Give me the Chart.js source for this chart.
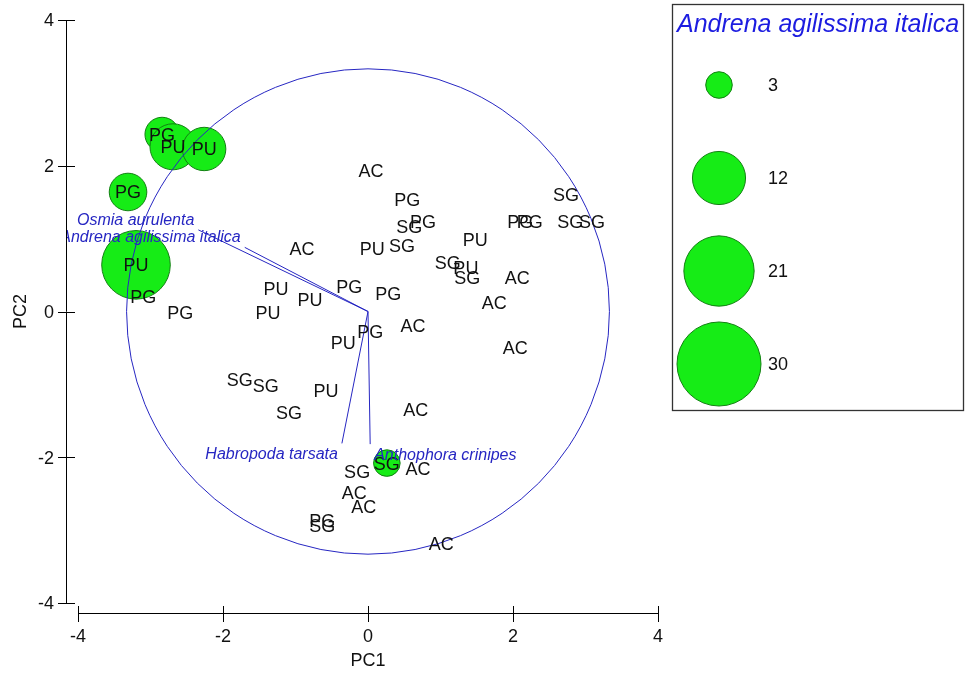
<!DOCTYPE html>
<html>
<head>
<meta charset="utf-8">
<title>PCA – sites and bee species</title>
<script src="https://cdn.jsdelivr.net/npm/chart.js@4.4.1/dist/chart.umd.min.js"></script>
<style>
  html, body { margin: 0; padding: 0; background: #ffffff; }
  canvas { display: block; }
</style>
</head>
<body>
<canvas id="pca" width="965" height="675"></canvas>
<script>
// Site scores on the first two principal components, with the site group
// and the abundance of Andrena agilissima italica at each site.
const sites = [
  'PG', 'PU', 'PU', 'PG', 'PU', 'SG',
  'AC', 'AC', 'AC', 'AC', 'AC', 'AC', 'AC', 'AC', 'AC', 'AC', 'AC',
  'PG', 'PG', 'PG', 'PG', 'PG', 'PG', 'PG', 'PG', 'PG', 'PG',
  'PU', 'PU', 'PU', 'PU', 'PU', 'PU', 'PU', 'PU',
  'SG', 'SG', 'SG', 'SG', 'SG', 'SG', 'SG', 'SG', 'SG', 'SG', 'SG', 'SG'
];
const pc1 = [
  -2.84, -2.69, -2.26, -3.31, -3.20, 0.26,
  -0.91, 0.04, 2.06, 1.74, 0.62, 2.03, 0.66, 0.69, -0.19, -0.06, 1.01,
  -3.10, -2.59, 0.54, 0.76, -0.26, 0.28, 2.10, 2.23, 0.03, -0.63,
  -1.27, -1.38, -0.80, 0.06, 1.48, 1.35, -0.34, -0.58,
  0.57, 0.47, 1.10, 1.37, 2.73, 2.79, 3.09, -1.77, -1.41, -1.09, -0.15, -0.63
];
const pc2 = [
  2.43, 2.26, 2.23, 1.64, 0.64, -2.08,
  0.87, 1.93, 0.47, 0.12, -0.19, -0.50, -1.34, -2.15, -2.49, -2.67, -3.18,
  0.21, -0.01, 1.53, 1.24, 0.34, 0.24, 1.24, 1.24, -0.28, -2.87,
  0.31, -0.02, 0.16, 0.87, 0.99, 0.60, -0.43, -1.08,
  1.16, 0.91, 0.67, 0.46, 1.60, 1.23, 1.24, -0.93, -1.01, -1.38, -2.19, -2.94
];
const andrena = [
  5, 9, 8, 6, 20, 3,
  0, 0, 0, 0, 0, 0, 0, 0, 0, 0, 0,
  0, 0, 0, 0, 0, 0, 0, 0, 0, 0,
  0, 0, 0, 0, 0, 0, 0, 0,
  0, 0, 0, 0, 0, 0, 0, 0, 0, 0, 0, 0
];

// Species vectors (loadings) and the correlation circle.
const vectorNames = ['Osmia aurulenta', 'Andrena agilissima italica', 'Habropoda tarsata', 'Anthophora crinipes'];
const vectorPC1 = [-2.34, -1.70, -0.36, 0.03];
const vectorPC2 = [1.12, 0.88, -1.81, -1.82];
const circleRadius = 3.33;

// Axis ticks and bubble-size key.
const axisTicks = [-4, -2, 0, 2, 4];
const legendValues = [3, 12, 21, 30];
const legendTitle = 'Andrena agilissima italica';

const GREEN = 'rgb(22,236,22)';
const GREEN_EDGE = 'rgb(18,128,18)';
const BLUE = '#2626c2';
const TITLE_BLUE = '#1c1ce0';
const INK = '#111111';
const FONT = '"Liberation Sans", Arial, sans-serif';
const SIZE = 18;
const CAP = 0.716;

// Bubble area is proportional to abundance.
const bubbleRadius = v => (v > 0 ? 7.67 * Math.sqrt(v) : 0);

const ordinationPlugin = {
  id: 'ordination',
  afterDatasetsDraw(chart) {
    const ctx = chart.ctx;
    const xs = chart.scales.x;
    const ys = chart.scales.y;
    const cx = xs.getPixelForValue(0);
    const cy = ys.getPixelForValue(0);

    ctx.save();

    // correlation circle
    const rx = xs.getPixelForValue(circleRadius) - cx;
    const ry = cy - ys.getPixelForValue(circleRadius);
    ctx.strokeStyle = BLUE;
    ctx.lineWidth = 1;
    ctx.beginPath();
    ctx.ellipse(cx, cy, rx, ry, 0, 0, Math.PI * 2);
    ctx.stroke();

    // site group labels, centred on each point
    ctx.fillStyle = INK;
    ctx.font = SIZE + 'px ' + FONT;
    ctx.textAlign = 'center';
    ctx.textBaseline = 'alphabetic';
    const meta = chart.getDatasetMeta(0);
    meta.data.forEach((el, i) => {
      ctx.fillText(sites[i], el.x, el.y + SIZE * CAP / 2);
    });

    const yAxisX = xs.left - 12;
    const xAxisY = ys.bottom + 10;

    // species names at the vector tips
    ctx.save();
    ctx.beginPath();
    ctx.rect(yAxisX + 1, 0, chart.width, chart.height);
    ctx.clip();
    ctx.fillStyle = BLUE;
    ctx.font = 'italic 16px ' + FONT;
    vectorNames.forEach((name, i) => {
      const px = xs.getPixelForValue(vectorPC1[i]);
      const py = ys.getPixelForValue(vectorPC2[i]);
      const left = vectorPC1[i] < 0;
      ctx.textAlign = left ? 'right' : 'left';
      const tx = left ? px - 4 : px + 4;
      const ty = vectorPC2[i] > 0 ? py - 11 : py + 10;
      ctx.fillText(name, tx, ty + 16 * CAP / 2);
    });
    ctx.restore();

    // axes with crossing ticks
    ctx.strokeStyle = '#000';
    ctx.lineWidth = 1;
    ctx.beginPath();
    ctx.moveTo(yAxisX + 0.5, ys.getPixelForValue(4));
    ctx.lineTo(yAxisX + 0.5, ys.getPixelForValue(-4));
    ctx.moveTo(xs.getPixelForValue(-4), xAxisY + 0.5);
    ctx.lineTo(xs.getPixelForValue(4), xAxisY + 0.5);
    axisTicks.forEach(t => {
      const ty = Math.round(ys.getPixelForValue(t)) + 0.5;
      ctx.moveTo(yAxisX - 8, ty);
      ctx.lineTo(yAxisX + 9, ty);
      const tx = Math.round(xs.getPixelForValue(t)) + 0.5;
      ctx.moveTo(tx, xAxisY - 7);
      ctx.lineTo(tx, xAxisY + 9);
    });
    ctx.stroke();

    ctx.fillStyle = INK;
    ctx.font = SIZE + 'px ' + FONT;
    ctx.textAlign = 'right';
    axisTicks.forEach(t => {
      ctx.fillText(String(t), yAxisX - 12, ys.getPixelForValue(t) + SIZE * CAP / 2);
    });
    ctx.textAlign = 'center';
    axisTicks.forEach(t => {
      ctx.fillText(String(t), xs.getPixelForValue(t), xAxisY + 23 + SIZE * CAP / 2);
    });
    ctx.fillText('PC1', xs.getPixelForValue(0), xAxisY + 47 + SIZE * CAP / 2);
    ctx.save();
    ctx.translate(20, ys.getPixelForValue(0));
    ctx.rotate(-Math.PI / 2);
    ctx.fillText('PC2', 0, SIZE * CAP / 2);
    ctx.restore();

    // bubble size key
    const box = { left: 672.5, top: 4.5, right: 963.5, bottom: 410.5 };
    ctx.strokeStyle = '#333';
    ctx.lineWidth = 1.3;
    ctx.strokeRect(box.left, box.top, box.right - box.left, box.bottom - box.top);
    ctx.fillStyle = TITLE_BLUE;
    ctx.font = 'italic 25px ' + FONT;
    ctx.textAlign = 'center';
    ctx.fillText(legendTitle, (box.left + box.right) / 2, 23 + 25 * CAP / 2);

    legendValues.forEach((v, i) => {
      const ly = 85 + i * 93;
      ctx.beginPath();
      ctx.arc(719, ly, bubbleRadius(v), 0, Math.PI * 2);
      ctx.fillStyle = GREEN;
      ctx.fill();
      ctx.strokeStyle = GREEN_EDGE;
      ctx.lineWidth = 1;
      ctx.stroke();
      ctx.fillStyle = INK;
      ctx.font = SIZE + 'px ' + FONT;
      ctx.textAlign = 'left';
      ctx.fillText(String(v), 768, ly + SIZE * CAP / 2);
    });

    ctx.restore();
  }
};

new Chart(document.getElementById('pca'), {
  type: 'bubble',
  data: {
    datasets: [
      {
        label: legendTitle,
        data: sites.map((s, i) => ({ x: pc1[i], y: pc2[i], r: bubbleRadius(andrena[i]) })),
        backgroundColor: GREEN,
        borderColor: GREEN_EDGE,
        borderWidth: 1,
        order: 2,
        clip: false
      },
      ...vectorNames.map((name, i) => ({
        type: 'line',
        label: name,
        data: [{ x: 0, y: 0 }, { x: vectorPC1[i], y: vectorPC2[i] }],
        borderColor: BLUE,
        borderWidth: 1,
        pointRadius: 0,
        fill: false,
        tension: 0,
        order: 1
      }))
    ]
  },
  options: {
    responsive: false,
    animation: false,
    devicePixelRatio: 1,
    events: [],
    layout: {
      autoPadding: false,
      padding: { left: 78, right: 965 - 658, top: 20, bottom: 675 - 603 }
    },
    scales: {
      x: { type: 'linear', min: -4, max: 4, display: false },
      y: { type: 'linear', min: -4, max: 4, display: false }
    },
    plugins: { legend: { display: false }, tooltip: { enabled: false } }
  },
  plugins: [ordinationPlugin]
});
</script>
</body>
</html>
